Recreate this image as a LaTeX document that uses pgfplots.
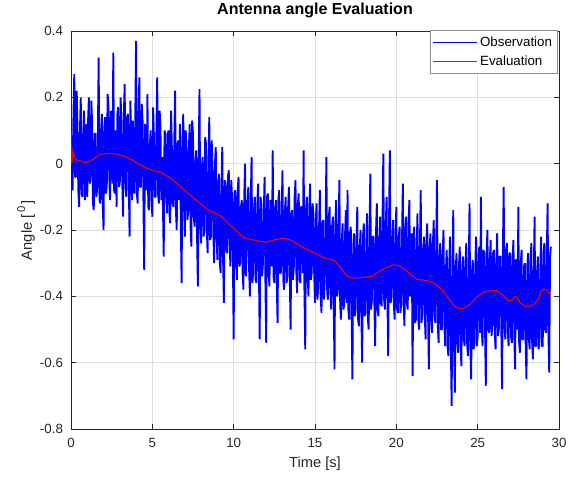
\documentclass[border=0pt]{standalone}
\usepackage{pgfplots}
\pgfplotsset{compat=1.18}
\usepackage{pgfplotstable}
\usepackage{fontspec}
\setmainfont{Liberation Sans}
\definecolor{axgray}{RGB}{38,38,38}
\definecolor{gridgray}{RGB}{222,222,222}
\definecolor{legedge}{RGB}{140,140,140}

\pgfplotstableread{
t y
0.00 0.10
0.05 -0.07
0.10 -0.08
0.15 0.14
0.20 0.27
0.25 -0.04
0.30 -0.04
0.35 0.22
0.40 0.11
0.45 -0.08
0.50 -0.13
0.55 0.10
0.60 0.20
0.65 -0.09
0.70 -0.10
0.75 0.09
0.80 0.16
0.85 -0.11
0.90 -0.06
0.95 0.12
1.00 -0.10
1.05 0.13
1.10 0.20
1.15 -0.06
1.20 -0.05
1.25 0.19
1.30 0.12
1.35 -0.12
1.40 -0.14
1.45 0.09
1.50 0.09
1.55 -0.10
1.60 -0.08
1.65 0.07
1.70 0.32
1.75 -0.11
1.80 -0.12
1.85 0.10
1.90 0.15
1.95 -0.12
2.00 -0.20
2.05 0.11
2.10 0.14
2.15 -0.09
2.20 -0.07
2.25 0.21
2.30 0.18
2.35 -0.03
2.40 -0.11
2.45 0.16
2.50 0.10
2.55 -0.06
2.60 0.335
2.65 -0.08
2.70 -0.09
2.75 0.10
2.80 -0.13
2.85 0.15
2.90 0.17
2.95 -0.07
3.00 -0.06
3.05 0.20
3.10 0.12
3.15 -0.05
3.20 -0.16
3.25 0.15
3.30 0.24
3.35 -0.07
3.40 -0.10
3.45 0.14
3.50 0.15
3.55 -0.04
3.60 -0.22
3.65 0.19
3.70 0.08
3.75 -0.11
3.80 0.13
3.85 -0.06
3.90 -0.09
3.95 0.13
4.00 0.37
4.05 -0.09
4.10 -0.12
4.15 0.13
4.20 0.26
4.25 -0.07
4.30 -0.07
4.35 0.18
4.40 0.13
4.45 -0.10
4.50 -0.32
4.55 0.12
4.60 0.06
4.65 -0.08
4.70 0.21
4.75 -0.13
4.80 -0.14
4.85 0.06
4.90 0.10
4.95 -0.10
5.00 -0.16
5.05 0.17
5.10 0.08
5.15 -0.10
5.20 -0.10
5.25 0.09
5.30 0.26
5.35 -0.09
5.40 -0.12
5.45 0.16
5.50 0.11
5.55 -0.11
5.60 0.02
5.65 -0.12
5.70 -0.28
5.75 0.10
5.80 0.09
5.85 -0.08
5.90 -0.15
5.95 0.09
6.00 0.10
6.05 -0.15
6.10 -0.18
6.15 0.16
6.20 0.05
6.25 -0.12
6.30 -0.13
6.35 0.07
6.40 0.22
6.45 -0.14
6.50 -0.20
6.55 0.06
6.60 0.07
6.65 -0.11
6.70 0.12
6.75 -0.18
6.80 -0.36
6.85 0.05
6.90 0.15
6.95 -0.13
7.00 -0.22
7.05 0.10
7.10 0.06
7.15 -0.17
7.20 -0.15
7.25 0.05
7.30 0.12
7.35 -0.19
7.40 -0.25
7.45 0.13
7.50 0.09
7.55 -0.16
7.60 -0.19
7.65 0.01
7.70 0.04
7.75 -0.22
7.80 -0.37
7.85 0.02
7.90 0.225
7.95 -0.19
8.00 -0.24
8.05 -0.01
8.10 0.02
8.15 -0.22
8.20 -0.20
8.25 0.08
8.30 0.06
8.35 -0.20
8.40 -0.27
8.45 -0.02
8.50 0.14
8.55 -0.23
8.60 -0.22
8.65 0.07
8.70 -0.01
8.75 -0.21
8.80 -0.30
8.85 0.00
8.90 0.05
8.95 -0.22
9.00 -0.29
9.05 -0.06
9.10 -0.03
9.15 -0.30
9.20 -0.33
9.25 -0.08
9.30 0.05
9.35 -0.29
9.40 -0.42
9.45 -0.05
9.50 -0.06
9.55 -0.26
9.60 -0.27
9.65 -0.04
9.70 -0.02
9.75 -0.24
9.80 -0.31
9.85 -0.05
9.90 -0.10
9.95 -0.27
10.00 -0.53
10.05 -0.09
10.10 -0.08
10.15 -0.30
10.20 -0.35
10.25 -0.08
10.30 -0.04
10.35 -0.31
10.40 -0.30
10.45 -0.13
10.50 -0.11
10.55 -0.33
10.60 -0.38
10.65 -0.10
10.70 0.00
10.75 -0.34
10.80 -0.27
10.85 -0.12
10.90 -0.07
10.95 -0.32
11.00 -0.40
11.05 -0.12
11.10 0.02
11.15 -0.36
11.20 -0.33
11.25 -0.14
11.30 -0.10
11.35 -0.35
11.40 -0.36
11.45 -0.13
11.50 -0.06
11.55 -0.31
11.60 -0.53
11.65 -0.10
11.70 -0.12
11.75 -0.34
11.80 -0.30
11.85 -0.16
11.90 -0.04
11.95 -0.35
12.00 -0.54
12.05 -0.10
12.10 -0.09
12.15 -0.33
12.20 -0.37
12.25 -0.11
12.30 -0.12
12.35 -0.31
12.40 0.04
12.45 -0.34
12.50 -0.36
12.55 -0.14
12.60 -0.11
12.65 -0.36
12.70 -0.48
12.75 -0.11
12.80 -0.08
12.85 -0.33
12.90 -0.33
12.95 -0.16
13.00 -0.02
13.05 -0.35
13.10 -0.38
13.15 -0.14
13.20 -0.10
13.25 -0.36
13.30 -0.34
13.35 -0.13
13.40 -0.07
13.45 -0.34
13.50 -0.50
13.55 -0.15
13.60 -0.14
13.65 -0.35
13.70 -0.31
13.75 -0.10
13.80 -0.05
13.85 -0.32
13.90 -0.39
13.95 -0.12
14.00 -0.09
14.05 -0.35
14.10 -0.36
14.15 -0.13
14.20 -0.13
14.25 -0.33
14.30 0.04
14.35 -0.38
14.40 -0.56
14.45 -0.14
14.50 -0.10
14.55 -0.34
14.60 -0.40
14.65 -0.13
14.70 -0.06
14.75 -0.35
14.80 -0.33
14.85 -0.12
14.90 -0.15
14.95 -0.33
15.00 -0.42
15.05 -0.17
15.10 -0.12
15.15 -0.41
15.20 -0.37
15.25 -0.19
15.30 -0.08
15.35 -0.40
15.40 -0.45
15.45 -0.18
15.50 -0.17
15.55 -0.41
15.60 -0.35
15.65 -0.20
15.70 0.02
15.75 -0.39
15.80 -0.41
15.85 -0.16
15.90 -0.13
15.95 -0.38
16.00 -0.44
16.05 -0.19
16.10 -0.16
16.15 -0.41
16.20 -0.62
16.25 -0.18
16.30 -0.11
16.35 -0.40
16.40 -0.39
16.45 -0.20
16.50 -0.05
16.55 -0.43
16.60 -0.47
16.65 -0.23
16.70 -0.18
16.75 -0.44
16.80 -0.42
16.85 -0.21
16.90 -0.14
16.95 -0.42
17.00 -0.08
17.05 -0.44
17.10 -0.47
17.15 -0.21
17.20 -0.19
17.25 -0.45
17.30 -0.65
17.35 -0.25
17.40 -0.21
17.45 -0.46
17.50 -0.44
17.55 -0.24
17.60 -0.13
17.65 -0.47
17.70 -0.49
17.75 -0.26
17.80 -0.20
17.85 -0.45
17.90 -0.60
17.95 -0.22
18.00 -0.18
18.05 -0.46
18.10 -0.45
18.15 -0.25
18.20 -0.15
18.25 -0.47
18.30 -0.50
18.35 -0.23
18.40 -0.03
18.45 -0.44
18.50 -0.41
18.55 -0.22
18.60 -0.22
18.65 -0.42
18.70 -0.55
18.75 -0.21
18.80 -0.12
18.85 -0.44
18.90 -0.46
18.95 -0.23
19.00 -0.16
19.05 -0.42
19.10 -0.43
19.15 -0.18
19.20 0.03
19.25 -0.41
19.30 -0.44
19.35 -0.19
19.40 -0.10
19.45 -0.40
19.50 -0.58
19.55 -0.18
19.60 0.04
19.65 -0.42
19.70 -0.40
19.75 -0.23
19.80 -0.17
19.85 -0.43
19.90 -0.47
19.95 -0.21
20.00 -0.13
20.05 -0.44
20.10 -0.45
20.15 -0.22
20.20 -0.19
20.25 -0.45
20.30 -0.42
20.35 -0.23
20.40 -0.06
20.45 -0.43
20.50 -0.49
20.55 -0.20
20.60 -0.16
20.65 -0.42
20.70 -0.44
20.75 -0.19
20.80 -0.11
20.85 -0.40
20.90 -0.39
20.95 -0.21
21.00 -0.64
21.05 -0.24
21.10 -0.19
21.15 -0.48
21.20 -0.47
21.25 -0.26
21.30 -0.15
21.35 -0.47
21.40 -0.50
21.45 -0.25
21.50 -0.08
21.55 -0.48
21.60 -0.45
21.65 -0.27
21.70 -0.22
21.75 -0.46
21.80 -0.53
21.85 -0.23
21.90 -0.18
21.95 -0.45
22.00 -0.62
22.05 -0.25
22.10 -0.21
22.15 -0.47
22.20 -0.51
22.25 -0.24
22.30 -0.17
22.35 -0.46
22.40 -0.48
22.45 -0.26
22.50 -0.05
22.55 -0.49
22.60 -0.54
22.65 -0.29
22.70 -0.24
22.75 -0.50
22.80 -0.50
22.85 -0.27
22.90 -0.20
22.95 -0.48
23.00 -0.55
23.05 -0.32
23.10 -0.26
23.15 -0.55
23.20 -0.58
23.25 -0.31
23.30 -0.22
23.35 -0.54
23.40 -0.73
23.45 -0.33
23.50 -0.14
23.55 -0.55
23.60 -0.69
23.65 -0.32
23.70 -0.27
23.75 -0.54
23.80 -0.57
23.85 -0.31
23.90 -0.25
23.95 -0.55
24.00 -0.61
24.05 -0.31
24.10 -0.28
24.15 -0.53
24.20 -0.55
24.25 -0.30
24.30 -0.24
24.35 -0.54
24.40 -0.58
24.45 -0.34
24.50 -0.12
24.55 -0.55
24.60 -0.65
24.65 -0.33
24.70 -0.29
24.75 -0.56
24.80 -0.54
24.85 -0.32
24.90 -0.22
24.95 -0.55
25.00 -0.52
25.05 -0.28
25.10 -0.25
25.15 -0.51
25.20 -0.10
25.25 -0.49
25.30 -0.55
25.35 -0.26
25.40 -0.27
25.45 -0.48
25.50 -0.67
25.55 -0.27
25.60 -0.20
25.65 -0.50
25.70 -0.51
25.75 -0.29
25.80 -0.23
25.85 -0.52
25.90 -0.49
25.95 -0.27
26.00 -0.26
26.05 -0.51
26.10 -0.56
26.15 -0.29
26.20 -0.21
26.25 -0.52
26.30 -0.50
26.35 -0.28
26.40 -0.28
26.45 -0.48
26.50 -0.68
26.55 -0.27
26.60 -0.07
26.65 -0.49
26.70 -0.53
26.75 -0.26
26.80 -0.24
26.85 -0.50
26.90 -0.55
26.95 -0.27
27.00 -0.27
27.05 -0.52
27.10 -0.54
27.15 -0.28
27.20 -0.23
27.25 -0.51
27.30 -0.62
27.35 -0.29
27.40 -0.29
27.45 -0.50
27.50 -0.13
27.55 -0.54
27.60 -0.57
27.65 -0.30
27.70 -0.26
27.75 -0.53
27.80 -0.53
27.85 -0.31
27.90 -0.30
27.95 -0.54
28.00 -0.65
28.05 -0.31
28.10 -0.27
28.15 -0.53
28.20 -0.56
28.25 -0.30
28.30 -0.24
28.35 -0.54
28.40 -0.59
28.45 -0.34
28.50 -0.16
28.55 -0.55
28.60 -0.55
28.65 -0.33
28.70 -0.28
28.75 -0.56
28.80 -0.52
28.85 -0.32
28.90 -0.22
28.95 -0.55
29.00 -0.55
29.05 -0.27
29.10 -0.24
29.15 -0.50
29.20 -0.51
29.25 -0.27
29.30 -0.12
29.35 -0.51
29.40 -0.63
29.45 -0.28
29.50 -0.25
}\obsdata

\pgfplotstableread{
t y
0.00 0.095
0.03 0.000
0.06 0.050
0.10 0.015
0.15 0.030
0.25 0.015
0.40 0.010
0.60 0.008
0.90 0.003
1.20 0.008
1.50 0.018
1.80 0.028
2.20 0.031
2.80 0.029
3.10 0.025
3.40 0.019
3.80 0.010
4.20 -0.002
4.60 -0.012
4.90 -0.018
5.30 -0.024
5.60 -0.028
6.00 -0.040
6.30 -0.051
6.80 -0.072
7.30 -0.094
7.90 -0.118
8.40 -0.138
8.80 -0.148
9.20 -0.157
9.70 -0.182
10.20 -0.204
10.60 -0.222
11.00 -0.228
11.50 -0.233
12.00 -0.237
12.50 -0.230
13.05 -0.224
13.50 -0.230
14.00 -0.245
14.50 -0.258
15.10 -0.272
15.60 -0.285
16.20 -0.292
16.60 -0.315
16.95 -0.338
17.36 -0.345
17.90 -0.343
18.50 -0.340
19.00 -0.323
19.40 -0.313
19.80 -0.305
20.10 -0.307
20.45 -0.316
20.90 -0.335
21.25 -0.348
21.90 -0.353
22.30 -0.360
22.70 -0.375
23.00 -0.392
23.30 -0.413
23.60 -0.430
23.85 -0.437
24.10 -0.436
24.45 -0.428
24.90 -0.405
25.35 -0.388
25.80 -0.383
26.20 -0.383
26.50 -0.395
26.85 -0.412
27.10 -0.413
27.25 -0.402
27.40 -0.401
27.60 -0.418
27.90 -0.430
28.15 -0.431
28.45 -0.425
28.70 -0.410
28.90 -0.385
29.05 -0.378
29.20 -0.380
29.35 -0.388
29.50 -0.395
}\evaldata

\begin{document}
\begin{tikzpicture}
\useasboundingbox (-53.25pt,-36pt) rectangle (377.25pt,321.75pt);
\begin{axis}[
  at={(0,0)}, anchor=south west,
  scale only axis,
  width=366pt, height=298.5pt,
  xmin=0, xmax=30, ymin=-0.8, ymax=0.4,
  xtick={0,5,...,30},
  ytick={-0.8,-0.6,-0.4,-0.2,0,0.2,0.4},
  yticklabels={-0.8,-0.6,-0.4,-0.2,0,0.2,0.4},
  grid=major,
  major grid style={color=gridgray, line width=0.5pt},
  axis line style={color=axgray, line width=0.6pt},
  major tick style={color=axgray, line width=0.6pt},
  major tick length=3.75pt,
  tick align=inside,
  /pgf/number format/assume math mode=true,
  tick label style={font=\fontsize{10}{12}\selectfont, text=axgray},
  xticklabel style={yshift=-3.5pt},
  yticklabel style={xshift=-2.5pt},
  title={Antenna angle Evaluation},
  title style={font=\bfseries\fontsize{12}{14}\selectfont, at={(axis description cs:0.5,1)}, anchor=base, yshift=6pt},
  xlabel={Time [s]},
  ylabel={Angle [\hspace{1.5pt}\raisebox{0.45em}{\fontsize{8.5}{9}\selectfont 0}\hspace{1.5pt}]},
  label style={font=\fontsize{11}{13}\selectfont, text=axgray},
  xlabel style={at={(axis description cs:0.5,-0.088)}, anchor=center},
  ylabel style={at={(axis description cs:-0.092,0.5)}, anchor=center},
  legend cell align=left,
  legend style={at={(rel axis cs:1,1)}, anchor=north east, xshift=-1pt, yshift=0.5pt,
    draw=legedge, line width=0.5pt, fill=white,
    font=\fontsize{10}{12}\selectfont, inner xsep=2pt, inner ysep=2.5pt,
    row sep=1.5pt},
  legend image code/.code={\draw[#1, line width=0.5pt] (0pt,0pt) -- (33pt,0pt);},
  clip=true,
]
\addplot[color=blue, line width=1.4pt, line join=bevel] table[x=t, y=y] {\obsdata};
\addlegendentry{Observation}
\addplot[color=red, line width=0.8pt] table[x=t, y=y] {\evaldata};
\addlegendentry{Evaluation}
\end{axis}
\end{tikzpicture}
\end{document}
